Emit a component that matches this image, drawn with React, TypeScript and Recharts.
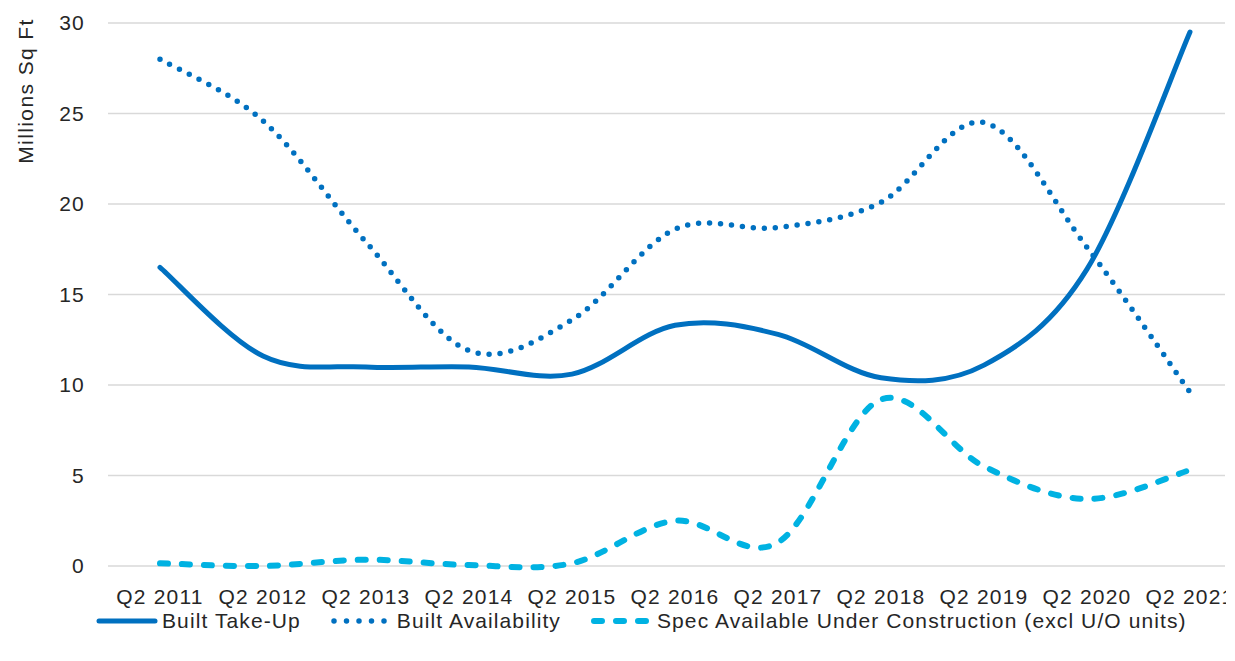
import { LineChart, Line, XAxis, YAxis, CartesianGrid, Legend } from 'recharts';

const categories = [
  'Q2 2011', 'Q2 2012', 'Q2 2013', 'Q2 2014', 'Q2 2015', 'Q2 2016',
  'Q2 2017', 'Q2 2018', 'Q2 2019', 'Q2 2020', 'Q2 2021',
];
const builtTakeUp = [16.5, 11.6, 11.0, 11.0, 10.6, 13.3, 12.8, 10.4, 11.1, 16.4, 29.5];
const builtAvailability = [28.0, 24.6, 17.9, 11.9, 13.6, 18.6, 18.7, 20.1, 24.5, 17.6, 9.6];
const specUnderConstruction = [0.15, 0.0, 0.35, 0.05, 0.15, 2.5, 1.3, 9.2, 5.5, 3.7, 5.3];
const yTicks = [0, 5, 10, 15, 20, 25, 30];

const data = categories.map((q, i) => ({
  q,
  takeUp: builtTakeUp[i],
  availability: builtAvailability[i],
  spec: specUnderConstruction[i],
}));

const FONT = '"Liberation Sans", Arial, sans-serif';
const TEXT = '#262626';
const DARK = '#0070C0';
const LIGHT = '#00B2E2';
const tickStyle = { fill: TEXT, fontSize: 21, fontFamily: FONT, letterSpacing: 1.2 };

// Excel-style smoothing (Catmull-Rom through the points)
function excelSmooth(context: any) {
  let pts: number[][] = [];
  return {
    areaStart() {},
    areaEnd() {},
    lineStart() {
      pts = [];
    },
    point(x: number, y: number) {
      pts.push([+x, +y]);
    },
    lineEnd() {
      if (!pts.length) return;
      context.moveTo(pts[0][0], pts[0][1]);
      for (let i = 0; i < pts.length - 1; i++) {
        const p0 = pts[i - 1] || pts[i];
        const p1 = pts[i];
        const p2 = pts[i + 1];
        const p3 = pts[i + 2] || pts[i + 1];
        context.bezierCurveTo(
          p1[0] + (p2[0] - p0[0]) / 6,
          p1[1] + (p2[1] - p0[1]) / 6,
          p2[0] - (p3[0] - p1[0]) / 6,
          p2[1] - (p3[1] - p1[1]) / 6,
          p2[0],
          p2[1],
        );
      }
    },
  };
}

const legendItems = [
  { label: 'Built Take-Up', color: DARK, dash: undefined as string | undefined, width: 5 },
  { label: 'Built Availability', color: DARK, dash: '0 12.5', width: 5.5 },
  { label: 'Spec Available Under Construction (excl U/O units)', color: LIGHT, dash: '8 14', width: 6 },
];

function ChartLegend() {
  return (
    <div style={{ display: 'flex', alignItems: 'center', height: 30, paddingLeft: 96, fontFamily: FONT, fontSize: 21, letterSpacing: 1.1, color: TEXT }}>
      {legendItems.map((it) => (
        <div key={it.label} style={{ display: 'flex', alignItems: 'center', marginRight: 30 }}>
          <svg width={62} height={12} style={{ marginRight: 4 }}>
            <line x1={3} y1={6} x2={59} y2={6} stroke={it.color} strokeWidth={it.width}
              strokeDasharray={it.dash} strokeLinecap="round" />
          </svg>
          <span style={{ whiteSpace: 'nowrap' }}>{it.label}</span>
        </div>
      ))}
    </div>
  );
}

function YLabel({ viewBox }: any) {
  const cx = 25;
  const cy = viewBox.y + 68;
  return (
    <text x={cx} y={cy} transform={`rotate(-90 ${cx} ${cy})`} textAnchor="middle"
      dominantBaseline="central" fill={TEXT} fontSize={21} fontFamily={FONT} letterSpacing={1.4}>
      Millions Sq Ft
    </text>
  );
}

export default function App() {
  return (
    <div style={{ position: 'absolute', left: 0, top: 0 }}>
      <LineChart width={1226} height={661} data={data} margin={{ top: 23, right: 1, bottom: 25, left: 0 }}>
        <CartesianGrid vertical={false} stroke="#D9D9D9" strokeWidth={1.5} />
        <XAxis
          dataKey="q"
          axisLine={false}
          tickLine={false}
          tickSize={0}
          tickMargin={23}
          height={40}
          interval={0}
          padding={{ left: 52, right: 35 }}
          tick={tickStyle}
        />
        <YAxis
          domain={[0, 30]}
          ticks={yTicks}
          width={108}
          axisLine={false}
          tickLine={false}
          tickSize={0}
          tickMargin={23}
          tick={tickStyle}
          label={<YLabel />}
        />
        <Legend verticalAlign="bottom" height={30} content={<ChartLegend />} wrapperStyle={{ left: 0, width: 1226 }} />
        <Line type={excelSmooth as any} dataKey="takeUp" name="Built Take-Up" stroke={DARK} strokeWidth={5}
          strokeLinecap="round" dot={false} activeDot={false} isAnimationActive={false} />
        <Line type={excelSmooth as any} dataKey="availability" name="Built Availability" stroke={DARK} strokeWidth={5.5}
          strokeDasharray="0 11" strokeLinecap="round" dot={false} activeDot={false} isAnimationActive={false} />
        <Line type={excelSmooth as any} dataKey="spec" name="Spec Available Under Construction (excl U/O units)" stroke={LIGHT}
          strokeWidth={6} strokeDasharray="8 14" strokeLinecap="round" dot={false} activeDot={false} isAnimationActive={false} />
      </LineChart>
    </div>
  );
}
